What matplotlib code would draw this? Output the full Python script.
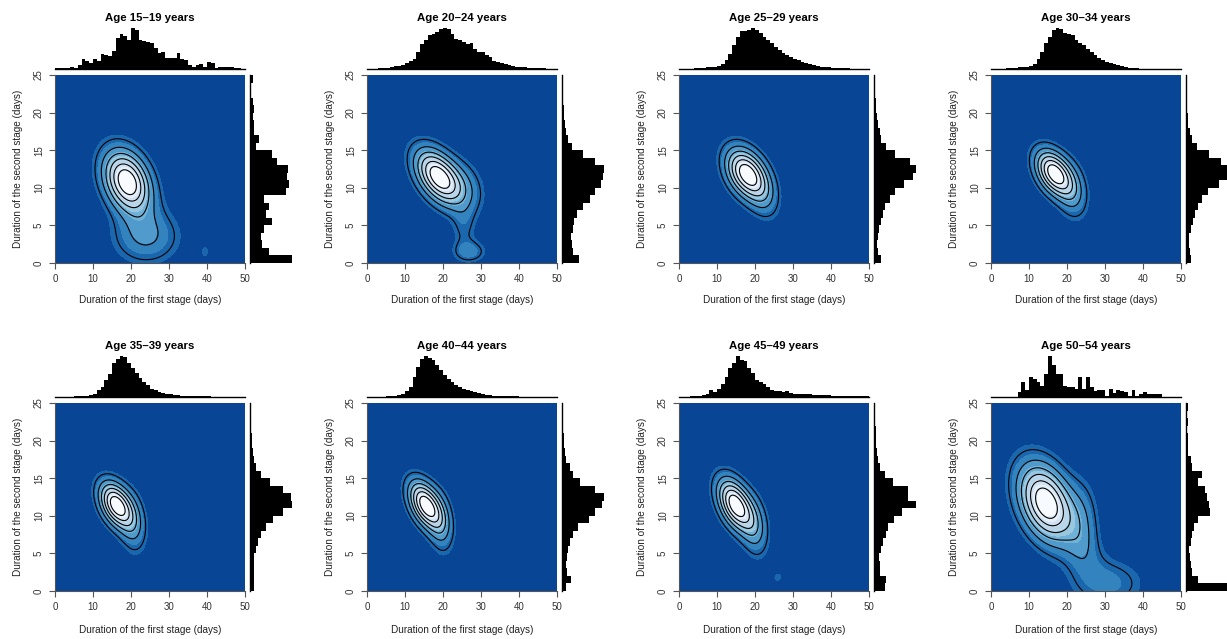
import numpy as np
import matplotlib.pyplot as plt
from matplotlib.colors import LinearSegmentedColormap

plt.rcParams['font.family'] = ['Liberation Sans', 'DejaVu Sans']

# age groups shown in the panels
age_groups = ["15\u201319", "20\u201324", "25\u201329", "30\u201334",
              "35\u201339", "40\u201344", "45\u201349", "50\u201354"]

# top marginal histograms: relative frequency per 1-day bin of the first stage (0-50 days)
first_15 = [3, 2, 2, 2, 5, 3, 12, 29, 24, 19, 29, 25, 45, 42, 39, 54, 92, 104, 99, 85,
            122, 115, 87, 82, 80, 77, 62, 49, 52, 32, 32, 32, 47, 29, 27, 12, 7, 12, 14, 7,
            22, 17, 2, 7, 5, 7, 6, 2, 2, 0]
first_20 = [1, 1, 1, 2, 3, 4, 6, 8, 10, 12, 18, 25, 30, 50, 75, 85, 100, 105, 110, 118,
            122, 118, 105, 88, 85, 80, 75, 78, 60, 52, 50, 42, 35, 25, 20, 18, 16, 12, 10, 7,
            6, 5, 4, 3, 3, 2, 2, 1, 1, 1]
first_25 = [1, 1, 1, 1, 2, 3, 4, 6, 7, 7, 10, 15, 25, 45, 70, 95, 110, 112, 115, 120,
            115, 105, 95, 85, 75, 65, 55, 48, 42, 36, 30, 25, 20, 17, 14, 11, 9, 7, 6, 5,
            4, 3, 2, 2, 2, 1, 1, 1, 1, 1]
first_30 = [1, 1, 1, 1, 2, 3, 4, 6, 6, 7, 10, 15, 30, 50, 75, 95, 115, 120, 118, 105,
            103, 100, 85, 75, 70, 60, 50, 40, 32, 25, 20, 18, 15, 12, 8, 5, 3, 2, 2, 1,
            1, 1, 1, 1, 1, 1, 1, 1, 1, 1]
first_35 = [0, 0, 0, 1, 1, 2, 2, 3, 4, 6, 10, 20, 30, 50, 68, 100, 112, 122, 118, 100,
            85, 70, 58, 45, 35, 25, 20, 15, 12, 10, 8, 6, 5, 4, 4, 3, 3, 2, 2, 2,
            2, 1, 1, 1, 1, 1, 1, 1, 1, 1]
first_40 = [0, 0, 1, 1, 1, 2, 3, 4, 6, 10, 18, 30, 60, 90, 112, 122, 115, 110, 95, 80,
            65, 55, 45, 35, 30, 25, 20, 18, 15, 12, 9, 7, 5, 4, 3, 3, 2, 2, 3, 2,
            1, 1, 1, 1, 1, 1, 1, 1, 1, 1]
first_45 = [1, 1, 1, 2, 3, 4, 6, 9, 20, 14, 25, 40, 60, 85, 100, 122, 110, 108, 85, 70,
            50, 45, 38, 30, 22, 18, 18, 16, 18, 12, 10, 10, 10, 8, 8, 7, 7, 5, 5, 6,
            4, 4, 4, 3, 3, 3, 3, 2, 2, 2]
first_50 = [0, 0, 0, 0, 0, 0, 0, 15, 45, 20, 60, 55, 45, 33, 70, 123, 95, 70, 70, 33,
            30, 30, 25, 60, 25, 60, 30, 17, 22, 22, 2, 23, 12, 20, 17, 15, 2, 22, 2, 10,
            15, 8, 8, 8, 8, 0, 0, 0, 0, 0]

# right marginal histograms: relative frequency per 1-day bin of the second stage (0-25 days)
second_15 = [123, 56, 35, 33, 41, 63, 46, 56, 40, 106, 115, 108, 110, 80, 65, 18, 26, 13,
             13, 10, 13, 10, 3, 3, 10]
second_20 = [51, 33, 28, 26, 33, 36, 43, 61, 81, 98, 115, 121, 123, 98, 61, 28, 18, 13,
             9, 7, 5, 3, 2, 1, 1]
second_25 = [22, 12, 10, 12, 15, 20, 27, 34, 47, 62, 90, 117, 125, 107, 62, 37, 22, 17,
             12, 9, 7, 5, 4, 3, 2]
second_30 = [15, 12, 9, 10, 15, 20, 27, 35, 47, 65, 97, 120, 122, 102, 67, 32, 17, 12,
             7, 5, 4, 3, 2, 2, 1]
second_35 = [13, 13, 12, 11, 13, 18, 23, 33, 48, 68, 96, 123, 120, 96, 58, 33, 18, 11,
             8, 6, 5, 4, 3, 2, 2]
second_40 = [13, 25, 15, 13, 15, 18, 23, 33, 48, 78, 98, 118, 123, 98, 53, 33, 23, 13,
             8, 6, 5, 3, 2, 1, 1]
second_45 = [34, 37, 17, 17, 15, 20, 27, 37, 42, 60, 84, 125, 102, 102, 57, 32, 17, 12,
             9, 7, 6, 5, 4, 3, 2]
second_50 = [125, 35, 17, 15, 12, 10, 15, 17, 25, 37, 72, 67, 62, 57, 37, 49, 17, 15,
             7, 5, 7, 4, 5, 4, 7]

# density blobs:
# (first stage centre, second stage centre, sd first, sd second, correlation, weight)
blobs_15 = [(19, 10.8, 4.3, 2.9, -0.3, 1.0), (24, 3.5, 6.0, 2.5, 0.0, 0.3),
            (39.5, 1.5, 0.8, 0.7, 0.0, 0.125)]
blobs_20 = [(18.5, 11.6, 4.1, 2.5, -0.45, 1.0), (25, 10, 4.0, 2.5, -0.2, 0.28),
            (25.5, 4.5, 2.2, 2.0, 0.0, 0.15), (27, 1.5, 3.0, 1.0, 0.0, 0.25)]
blobs_25 = [(17.5, 12, 3.6, 2.3, -0.35, 1.0), (22, 9.5, 3.0, 2.5, -0.3, 0.3)]
blobs_30 = [(16.5, 12, 3.3, 2.1, -0.4, 1.0), (21.5, 9.5, 2.8, 2.6, -0.2, 0.3)]
blobs_35 = [(16, 11.5, 3.0, 2.1, -0.4, 1.0), (20.5, 9, 2.5, 2.8, -0.2, 0.3)]
blobs_40 = [(15.3, 11.5, 3.0, 2.2, -0.45, 1.0), (19.5, 9, 2.3, 2.8, -0.2, 0.3)]
blobs_45 = [(14.8, 11.5, 3.2, 2.4, -0.45, 1.0), (20, 8.5, 2.5, 2.8, -0.2, 0.3),
            (26, 1.8, 1.1, 0.6, 0.0, 0.125)]
blobs_50 = [(14.5, 11.7, 5.0, 3.6, -0.35, 1.0), (24, 9, 3.0, 4.0, 0.0, 0.2),
            (25, 5, 4.0, 2.5, -0.3, 0.1), (31, 1, 6.5, 2.2, 0.0, 0.22)]

first_hists = [first_15, first_20, first_25, first_30, first_35, first_40, first_45, first_50]
second_hists = [second_15, second_20, second_25, second_30, second_35, second_40, second_45, second_50]
blob_sets = [blobs_15, blobs_20, blobs_25, blobs_30, blobs_35, blobs_40, blobs_45, blobs_50]

blues = ["#084594", "#2171B5", "#4292C6", "#6BAED6", "#9ECAE1", "#C6DBEF", "#DEEBF7", "#F7FBFF"]
cmap = LinearSegmentedColormap.from_list("blues_r", blues)
fill_colors = [cmap(i / 9) for i in range(10)]

W, H = 1227, 639
fig = plt.figure(figsize=(W / 100, H / 100), dpi=100)


def px_axes(left, top, width, height):
    return fig.add_axes([left / W, 1 - (top + height) / H, width / W, height / H])


gx = np.linspace(0, 50, 251)
gy = np.linspace(0, 25, 126)
X, Y = np.meshgrid(gx, gy)

for i in range(8):
    col, row = i % 4, i // 4
    left = 55 + 312 * col
    top = 75 + 328 * row

    # density map
    z = np.zeros_like(X)
    for mx, my, sx, sy, rho, w in blob_sets[i]:
        dx = (X - mx) / sx
        dy = (Y - my) / sy
        q = (dx ** 2 - 2 * rho * dx * dy + dy ** 2) / (1 - rho ** 2)
        z += w * np.exp(-0.5 * q)
    zmax = z.max()

    ax = px_axes(left, top, 190, 188)
    ax.set_facecolor(blues[0])
    ax.contourf(X, Y, z, levels=np.linspace(0, zmax, 11), colors=fill_colors)
    ax.contour(X, Y, z, levels=zmax * np.arange(1, 7) / 7, colors="black", linewidths=0.8)
    ax.set_xlim(0, 50)
    ax.set_ylim(0, 25)
    ax.set_xticks([0, 10, 20, 30, 40, 50])
    ax.set_yticks([0, 5, 10, 15, 20, 25])
    for s in ["top", "right"]:
        ax.spines[s].set_visible(False)
    for s in ["left", "bottom"]:
        ax.spines[s].set_color("#555555")
        ax.spines[s].set_linewidth(0.8)
    ax.tick_params(direction="out", length=4, width=0.8, color="#555555",
                   labelsize=7, labelcolor="#333333", pad=4)
    for lab in ax.get_yticklabels():
        lab.set_rotation(90)
        lab.set_va("center")

    # top marginal histogram
    axt = px_axes(left, top - 47, 190, 41)
    axt.bar(np.arange(50), first_hists[i], width=1, align="edge", color="black", linewidth=0)
    axt.set_xlim(0, 50)
    axt.set_ylim(0, max(first_hists[i]))
    axt.set_xticks([])
    axt.set_yticks([])
    for s in ["top", "right", "left"]:
        axt.spines[s].set_visible(False)
    axt.spines["bottom"].set_linewidth(1.0)

    # right marginal histogram
    axr = px_axes(left + 195, top, 42, 188)
    axr.barh(np.arange(25), second_hists[i], height=1, align="edge", color="black", linewidth=0)
    axr.set_ylim(0, 25)
    axr.set_xlim(0, max(second_hists[i]))
    axr.set_xticks([])
    axr.set_yticks([])
    for s in ["top", "right", "bottom"]:
        axr.spines[s].set_visible(False)
    axr.spines["left"].set_linewidth(1.0)

    cx = (left + 95) / W
    fig.text(cx, 1 - (18 + 328 * row) / H, "Age " + age_groups[i] + " years",
             ha="center", va="center", fontsize=8.2, fontweight="bold")
    fig.text(cx, 1 - (300 + 330 * row) / H, "Duration of the first stage (days)",
             ha="center", va="center", fontsize=7.2, color="#222222")
    fig.text((18 + 312 * col) / W, 1 - (top + 94) / H, "Duration of the second stage (days)",
             ha="center", va="center", rotation=90, fontsize=7.2, color="#222222")

fig.savefig("out.png", dpi=100)
